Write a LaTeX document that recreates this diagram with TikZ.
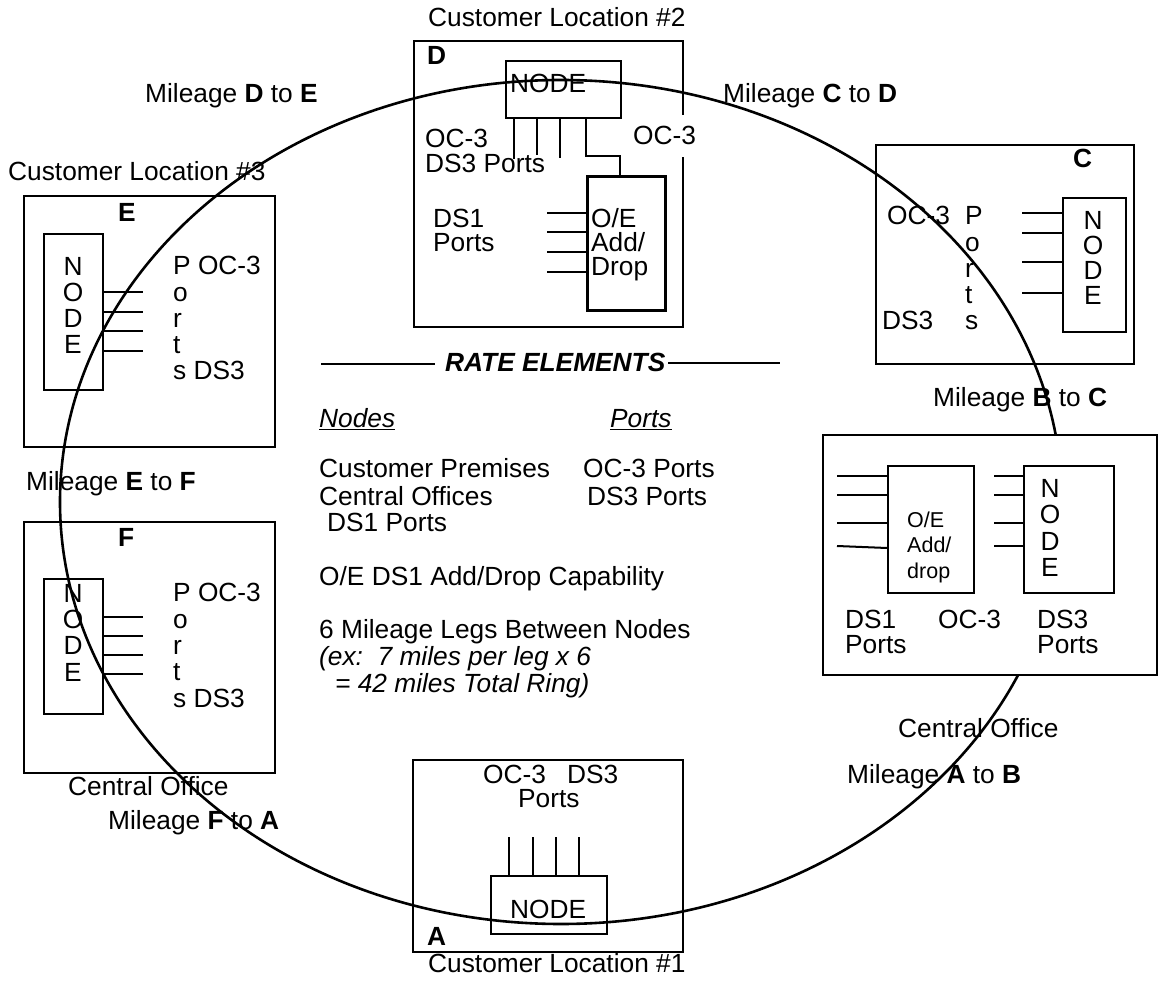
\documentclass[tikz,border=0pt]{standalone}
\usepackage{fontspec}
\setmainfont{Liberation Sans}
\usetikzlibrary{calc}
\begin{document}
\begin{tikzpicture}[x=1pt,y=-1pt,
  every node/.style={inner sep=0pt},
  txt/.style={anchor=base west, align=left, font=\fontsize{26.3}{26.3}\selectfont},
  ctr/.style={anchor=base, align=center, font=\fontsize{26.3}{26.3}\selectfont},
  tight/.style={font=\fontsize{26.3}{24}\selectfont},
  mid/.style={font=\fontsize{26.3}{25}\selectfont},
  small/.style={anchor=base west, align=left, font=\fontsize{21.5}{25.5}\selectfont},
  frame/.style={draw, line width=2pt},
  unit/.style={draw, line width=2pt, anchor=north west},
  stub/.style={line width=2pt},
  thick stub/.style={line width=2.6pt},
  ring/.style={line width=2.6pt}]
\useasboundingbox (0,0) rectangle (1160,981);

% ring
\draw[ring] (561,502) ellipse [x radius=501pt, y radius=422pt];

% ---------- Box D (Customer Location #2)
\draw[frame] (683,115) -- (683,41) -- (414,41) -- (414,327) -- (683,327) -- (683,157);
\node[txt] (lblD) at (427,65) {\textbf{D}};
\node[unit, minimum width=115pt, minimum height=57pt] (nodeD) at (505,60) {};
\node[txt] (nodeDtxt) at (510,93) {NODE};
\node[unit, line width=2.6pt, minimum width=78pt, minimum height=134pt] (oeD) at (586,175) {};
\node[txt, tight] (oeDtxt) at (591,276) {O/E\\Add/\\Drop};
\draw[stub] ($(nodeD.south west)+(9,0)$) -- ++(0,40);
\draw[stub] ($(nodeD.south west)+(32,0)$) -- ++(0,36);
\draw[stub] ($(nodeD.south west)+(55,0)$) -- ++(0,39);
\draw[thick stub] ($(nodeD.south west)+(81,0)$) -- ++(0,37) -| ($(oeD.north west)+(34,0)$);
\foreach \dy in {38,57,77,97} \draw[stub] ($(oeD.north west)+(0,\dy)$) -- ++(-39,0);
\node[txt, mid] (dPorts1) at (425,173) {OC-3\\DS3 Ports};
\node[txt, tight] (dPorts2) at (433,252) {DS1\\Ports};
\node[txt] (dOC) at (633,145) {OC-3};
\node[txt] (cl2) at (428,27) {Customer Location \#2};

% ---------- Box C
\draw[frame] (876,145) rectangle (1134,364);
\node[txt] (lblC) at (1073,168) {\textbf{C}};
\node[unit, minimum width=63pt, minimum height=134pt] (nodeC) at (1062,197) {};
\node[ctr, mid] (nodeCtxt) at (1093,305) {N\\O\\D\\E};
\foreach \dy in {16,36,65,96} \draw[stub] ($(nodeC.north west)+(0,\dy)$) -- ++(-40,0);
\node[txt] (cOC) at (887,225) {OC-3};
\node[txt] (cPorts) at (965,330) {P\\o\\r\\t\\s};
\node[txt] (cDS) at (882,330) {DS3};

% ---------- Box B (Central Office)
\draw[frame, fill=white] (823,435) rectangle (1157,675);
\node[unit, minimum width=86pt, minimum height=127pt] (oeB) at (887,465) {};
\node[small] (oeBtxt) at (907,578) {O/E\\Add/\\drop};
\node[unit, minimum width=90pt, minimum height=127pt] (nodeB) at (1023,465) {};
\node[ctr, font=\fontsize{26.3}{26}\selectfont] (nodeBtxt) at (1050,576) {N\\O\\D\\E};
\foreach \dy in {11,30,58} \draw[stub] ($(oeB.north west)+(0,\dy)$) -- ++(-50,0);
\draw[stub] ($(oeB.north west)+(0,83)$) -- ++(-50,-2);
\foreach \dy in {11,30,58,81} \draw[stub] ($(nodeB.north west)+(0,\dy)$) -- ++(-29,0);
\node[txt, mid] (bDS1) at (845,653) {DS1\\Ports};
\node[txt] (bOC) at (938,628) {OC-3};
\node[txt, mid] (bDS3) at (1037,653) {DS3\\Ports};

% ---------- Box E (Customer Location #3)
\draw[frame] (24,196) rectangle (275,447);
\node[txt] (lblE) at (118,222) {\textbf{E}};
\node[unit, minimum width=59pt, minimum height=156pt] (nodeE) at (43,233) {};
\node[ctr] (nodeEtxt) at (73,354) {N\\O\\D\\E};
\foreach \dy in {59,79,98,118} \draw[stub] ($(nodeE.north east)+(0,\dy)$) -- ++(39,0);
\node[txt] (ePorts) at (173,380) {P OC-3\\o\\r\\t\\s DS3};
\node[txt] (cl3) at (8,181) {Customer Location \#3};

% ---------- Box F (Central Office)
\draw[frame] (24,522) rectangle (275,773);
\node[txt] (lblF) at (118,547) {\textbf{F}};
\node[unit, minimum width=59pt, minimum height=135pt] (nodeF) at (43,578) {};
\node[ctr] (nodeFtxt) at (73,681) {N\\O\\D\\E};
\foreach \dy in {39,58,77,96} \draw[stub] ($(nodeF.north east)+(0,\dy)$) -- ++(39,0);
\node[txt] (fPorts) at (173,707) {P OC-3\\o\\r\\t\\s DS3};
\node[txt] (coF) at (68,795) {Central Office};

% ---------- Box A (Customer Location #1)
\draw[frame] (413,760) rectangle (683,952);
\node[txt] (lblA) at (427,945) {\textbf{A}};
\node[unit, minimum width=116pt, minimum height=58pt] (nodeA) at (490,875) {};
\node[txt] (nodeAtxt) at (510,918) {NODE};
\foreach \dx in {19,43,66,89} \draw[stub] ($(nodeA.north west)+(\dx,0)$) -- ++(0,-38);
\node[txt] (aPorts1) at (483,783) {OC-3\hspace{21pt}DS3};
\node[txt] (aPorts2) at (518,807) {Ports};
\node[txt] (cl1) at (428,972) {Customer Location \#1};

% ---------- mileage labels
\node[txt] (mDE) at (145,103) {Mileage \textbf{D} to \textbf{E}};
\node[txt] (mCD) at (723,103) {Mileage \textbf{C} to \textbf{D}};
\node[txt] (mBC) at (933,407) {Mileage \textbf{B} to \textbf{C}};
\node[txt] (mEF) at (26,490) {Mileage \textbf{E} to \textbf{F}};
\node[txt] (coB) at (898,737) {Central Office};
\node[txt] (mAB) at (847,783) {Mileage \textbf{A} to \textbf{B}};
\node[txt] (mFA) at (108,829) {Mileage \textbf{F} to \textbf{A}};

% ---------- rate elements
\node[txt] (rate) at (445,372) {\textbf{\textit{RATE ELEMENTS}}};
\coordinate (rl1) at (321,364);
\coordinate (rr2) at (780,363);
\draw[stub] (rl1) -- (435,364);
\draw[stub] (668,363) -- (rr2);
\node[txt] (hNodes) at (319,428) {\textit{\underline{Nodes}}};
\node[txt] (hPorts) at (610,428) {\textit{\underline{Ports}}};
\node[txt] (r1) at (319,478) {Customer Premises};
\node[txt] (r1b) at (583,478) {OC-3 Ports};
\node[txt] (r2) at (319,505) {Central Offices};
\node[txt] (r2b) at (587,505) {DS3 Ports};
\node[txt] (r3) at (327,532) {DS1 Ports};
\node[txt] (r4) at (319,585) {O/E DS1 Add/Drop Capability};
\node[txt] (r5) at (319,638) {6 Mileage Legs Between Nodes};
\node[txt] (r6) at (319,665) {\textit{(ex:\ \ 7 miles per leg x 6}};
\node[txt] (r7) at (335,692) {\textit{= 42 miles Total Ring)}};
\end{tikzpicture}
\end{document}
